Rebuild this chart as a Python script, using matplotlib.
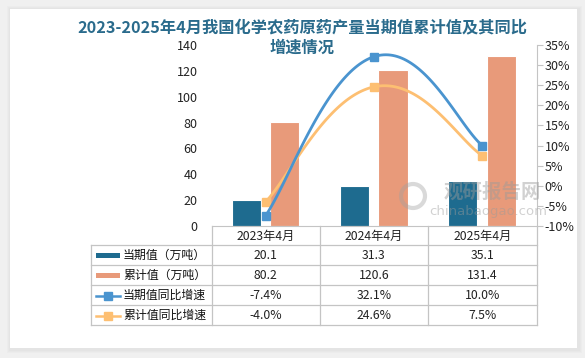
import numpy as np
import matplotlib
matplotlib.use("Agg")
import matplotlib.pyplot as plt
from matplotlib.patches import Rectangle

plt.rcParams['font.family'] = ['Noto Sans CJK SC', 'DejaVu Sans']
plt.rcParams['hatch.color'] = '#d6d6d6'
plt.rcParams['hatch.linewidth'] = 0.6

categories = ["2023年4月", "2024年4月", "2025年4月"]
current_vals = [20.1, 31.3, 35.1]
cumulative_vals = [80.2, 120.6, 131.4]
current_yoy = [-7.4, 32.1, 10.0]
cumulative_yoy = [-4.0, 24.6, 7.5]
current_yoy_labels = ["-7.4%", "32.1%", "10.0%"]
cumulative_yoy_labels = ["-4.0%", "24.6%", "7.5%"]
series_names = ["当期值（万吨）", "累计值（万吨）", "当期值同比增速", "累计值同比增速"]
left_ticks = [0, 20, 40, 60, 80, 100, 120, 140]
right_ticks = [-10, -5, 0, 5, 10, 15, 20, 25, 30, 35]

title = "2023-2025年4月我国化学农药原药产量当期值累计值及其同比\n增速情况"

C_BAR1 = '#1e6b8f'
C_BAR2 = '#e89a7a'
C_LINE1 = '#4a94cf'
C_LINE2 = '#fdbf72'
C_TITLE = '#2a6b8c'
C_GRID = '#c4c4c4'

W, H = 585, 358
fig = plt.figure(figsize=(W / 100, H / 100), dpi=100)
fig.patch.set_facecolor('#f0f0f0')

# overlay axes in pixel coordinates
ov = fig.add_axes([0, 0, 1, 1], zorder=0)
ov.set_xlim(0, W)
ov.set_ylim(H, 0)
ov.axis('off')
for i, a in enumerate([0.05, 0.05, 0.06]):
    ov.add_patch(Rectangle((9 - i, 8 - i), 569 + 2 * i + 2, 341 + 2 * i + 2, facecolor='#b0b0b0',
                           alpha=a, edgecolor='none'))
ov.add_patch(Rectangle((10, 9), 567, 339, facecolor='white', edgecolor='none'))

# main axes
x0, x1, ytop, ybot = 211.5, 536.5, 45, 226
ax = fig.add_axes([x0 / W, 1 - ybot / H, (x1 - x0) / W, (ybot - ytop) / H], zorder=2)
ax.set_facecolor('none')
ax.add_patch(Rectangle((0, 0), 1, 1, transform=ax.transAxes, facecolor='white',
                       edgecolor='none', hatch='\\\\\\\\\\\\\\', zorder=0))
x = np.arange(len(categories))
ax.set_xlim(-0.5, len(categories) - 0.5)
ax.set_ylim(0, 140)
bw = 0.27
ax.bar(x - 0.18, current_vals, width=bw, color=C_BAR1, edgecolor='white', linewidth=0.8, zorder=2)
ax.bar(x + 0.175, cumulative_vals, width=bw, color=C_BAR2, edgecolor='white', linewidth=0.8, zorder=2)
ax.set_yticks(left_ticks)
ax.set_yticklabels([str(t) for t in left_ticks], fontsize=9, color='#222222')
ax.tick_params(axis='y', length=0, pad=10)
ax.set_xticks([])
for s in ['left', 'top', 'right']:
    ax.spines[s].set_visible(False)
ax.spines['bottom'].set_color(C_GRID)
ax.spines['bottom'].set_linewidth(0.8)

ax2 = ax.twinx()
ax2.set_zorder(3)
ax2.set_ylim(-10, 35)
ax2.set_yticks(right_ticks)
ax2.set_yticklabels([f"{t}%" for t in right_ticks], fontsize=9, color='#222222')
ax2.tick_params(axis='y', length=4, color=C_GRID, pad=2)
for s in ['left', 'top', 'bottom']:
    ax2.spines[s].set_visible(False)
ax2.spines['right'].set_color(C_GRID)
ax2.spines['right'].set_linewidth(0.8)


def smooth(xs, ys, n=60):
    xs = np.asarray(xs, float)
    ys = np.asarray(ys, float)
    px = np.concatenate([[xs[0]], xs, [xs[-1]]])
    py = np.concatenate([[ys[0]], ys, [ys[-1]]])
    outx, outy = [], []
    for i in range(1, len(px) - 2):
        p0 = np.array([px[i], py[i]])
        p3 = np.array([px[i + 1], py[i + 1]])
        c1 = p0 + (np.array([px[i + 1], py[i + 1]]) - np.array([px[i - 1], py[i - 1]])) / 4.5
        c2 = p3 - (np.array([px[i + 2], py[i + 2]]) - np.array([px[i], py[i]])) / 4.5
        t = np.linspace(0, 1, n)[:, None]
        pts = ((1 - t) ** 3) * p0 + 3 * ((1 - t) ** 2) * t * c1 + 3 * (1 - t) * t ** 2 * c2 + t ** 3 * p3
        outx.extend(pts[:, 0])
        outy.extend(pts[:, 1])
    return np.array(outx), np.array(outy)


sx, sy = smooth(x, cumulative_yoy)
ax2.plot(sx, sy, color=C_LINE2, lw=2.0, zorder=3, solid_capstyle='round')
ax2.plot(x, cumulative_yoy, ls='none', marker='s', ms=6, color=C_LINE2, zorder=4)
sx, sy = smooth(x, current_yoy)
ax2.plot(sx, sy, color=C_LINE1, lw=2.0, zorder=5, solid_capstyle='round')
ax2.plot(x, current_yoy, ls='none', marker='s', ms=6, color=C_LINE1, zorder=6)

# watermark
ov2 = fig.add_axes([0, 0, 1, 1], zorder=4)
ov2.set_xlim(0, W)
ov2.set_ylim(H, 0)
ov2.axis('off')
ov2.text(492, 192, "观研报告网", fontsize=14, fontweight='bold', color='#9a9a9a', alpha=0.45,
         ha='center', va='center')
ov2.text(488, 212, "chinabaogao.com", fontsize=9.5, color='#9a9a9a', alpha=0.45,
         ha='center', va='center', family=['DejaVu Sans'])
ov2.add_patch(matplotlib.patches.Circle((413, 196), 12, facecolor='none', edgecolor='#a0a0a0',
                                        lw=3, alpha=0.4))

# title
ov2.text(302, 27, title.split("\n")[0], fontsize=11.7, fontweight='bold', color=C_TITLE,
         ha='center', va='center')
ov2.text(302, 48, title.split("\n")[1], fontsize=11.7, fontweight='bold', color=C_TITLE,
         ha='center', va='center')

# table
to_px = lambda xv: ov.transData.inverted().transform(ax.transData.transform((xv, 0)))[0]
col_edges = [to_px(v) for v in [-0.5, 0.5, 1.5, 2.5]]
col_centers = [to_px(v) for v in x]
row_left = 91
row_tops = [226, 245, 265, 285, 305, 325]
lc = C_GRID
lw = 0.9
for ce in col_edges:
    ov2.plot([ce, ce], [row_tops[0], row_tops[-1]], color=lc, lw=lw)
ov2.plot([row_left, row_left], [row_tops[1], row_tops[-1]], color=lc, lw=lw)
for rt in row_tops[1:]:
    ov2.plot([row_left, col_edges[-1]], [rt, rt], color=lc, lw=lw)
for cx, lab in zip(col_centers, categories):
    ov2.text(cx, (row_tops[0] + row_tops[1]) / 2 + 1, lab, fontsize=8.8, ha='center', va='center',
             color='#222222')
rows = [
    [f"{v:.1f}" for v in current_vals],
    [f"{v:.1f}" for v in cumulative_vals],
    current_yoy_labels,
    cumulative_yoy_labels,
]
for r, vals in enumerate(rows):
    yc = (row_tops[r + 1] + row_tops[r + 2]) / 2 + 0.5
    for cx, v in zip(col_centers, vals):
        ov2.text(cx, yc, v, fontsize=8.8, ha='center', va='center', color='#222222')
    ov2.text(123, yc, series_names[r], fontsize=8.6, ha='left', va='center', color='#111111')
    kx0, kx1 = 95.5, 120
    if r == 0:
        ov2.add_patch(Rectangle((kx0, yc - 2.5), kx1 - kx0, 5, facecolor=C_BAR1, edgecolor='none'))
    elif r == 1:
        ov2.add_patch(Rectangle((kx0, yc - 2.5), kx1 - kx0, 5, facecolor=C_BAR2, edgecolor='none'))
    else:
        colr = C_LINE1 if r == 2 else C_LINE2
        ov2.plot([kx0, kx1], [yc, yc], color=colr, lw=1.8)
        ov2.plot([(kx0 + kx1) / 2], [yc], marker='s', ms=5.5, color=colr)

fig.savefig("out.png", dpi=100, facecolor=fig.get_facecolor())
